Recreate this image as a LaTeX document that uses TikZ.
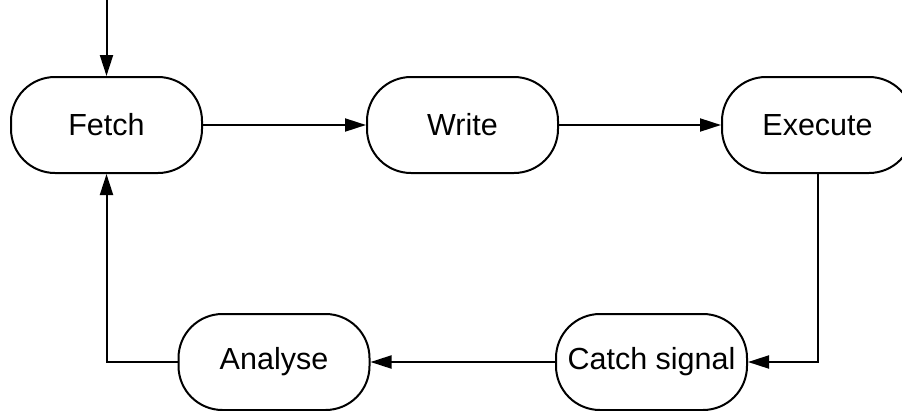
\documentclass[tikz,border=0pt]{standalone}
\usepackage{fontspec}
\setmainfont{Liberation Sans}
\usetikzlibrary{arrows.meta}
\begin{document}
\begin{tikzpicture}[x=1pt,y=-1pt,
  state/.style={draw, line width=2pt, rectangle, rounded corners=44pt,
    minimum width=191pt, minimum height=96pt, inner sep=0pt,
    font=\fontsize{30.5pt}{36pt}\selectfont},
  arr/.style={line width=2pt, -{Triangle[length=21pt,width=13pt]}}]
\useasboundingbox (0,0) rectangle (902,410);
\node[state] (fetch) at (106.5,125) {Fetch};
\node[state] (write) at (462.5,125) {Write};
\node[state] (exec) at (817.5,125) {Execute};
\node[state] (catch) at (651.5,362) {Catch signal};
\node[state] (analyse) at (274,362) {Analyse};
\coordinate (top) at (106.5,0);
\draw[arr] (top) -- (fetch.north);
\draw[arr] (fetch.east) -- (write.west);
\draw[arr] (write.east) -- (exec.west);
\draw[arr] (exec.south) -- (exec.south |- catch.east) -- (catch.east);
\draw[arr] (catch.west) -- (analyse.east);
\draw[arr] (analyse.west) -- (fetch.south |- analyse.west) -- (fetch.south);
\end{tikzpicture}
\end{document}
